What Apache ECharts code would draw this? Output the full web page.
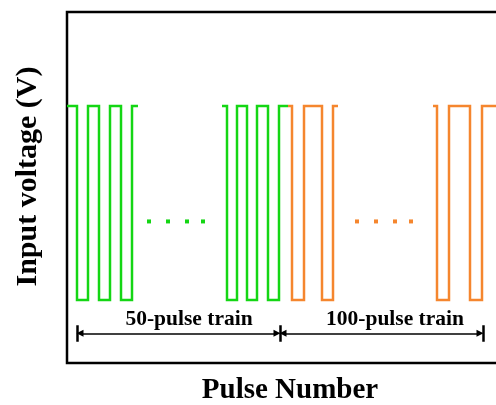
<!DOCTYPE html>
<html>
<head>
<meta charset="utf-8">
<script src="https://cdn.jsdelivr.net/npm/echarts@6/dist/echarts.min.js"></script>
<style>
  html, body { margin: 0; padding: 0; background: #fff; }
  #chart { width: 496px; height: 405px; }
</style>
</head>
<body>
<div id="chart"></div>
<script>
// Pulse waveform levels (V, arbitrary scale)
const HIGH = 1;
const LOW = 0;

// Time axis in arbitrary units; each burst: start, falling edges, rising edges, end
const green1Start = 0;
const green1Falls = [5, 16, 27];
const green1Rises = [10.5, 21.5, 32.5];
const green1End = 35.5;

const green2Start = 77.5;
const green2Falls = [80, 90, 100.5];
const green2Rises = [85, 95, 106];
const green2End = 110.5;

const orange1Start = 110.5;
const orange1Falls = [112.5, 127.5];
const orange1Rises = [118.5, 133];
const orange1End = 135.5;

const orange2Start = 183;
const orange2Falls = [185, 201.5];
const orange2Rises = [191, 207.5];
const orange2End = 225;

// Ellipsis dots between the bursts
const greenDotsX = [41, 50.5, 60, 68];
const orangeDotsX = [145, 154.5, 164, 172];
const dotsLevel = 0.405;

// Train span markers: bar positions and labels
const spanBars = [5, 106.5, 208];
const spanLabels = ['50-pulse train', '100-pulse train'];
const spanLabelX = [61, 164];

const GREEN = '#14d614';
const ORANGE = '#f5862e';
const FONT = 'Liberation Serif';

function burst(start, falls, rises, end) {
  const pts = [[start, HIGH]];
  for (let i = 0; i < falls.length; i++) {
    pts.push([falls[i], HIGH], [falls[i], LOW], [rises[i], LOW], [rises[i], HIGH]);
  }
  pts.push([end, HIGH]);
  return pts;
}

function pulseSeries(data, color) {
  return {
    type: 'line', data: data, showSymbol: false, symbol: 'none',
    lineStyle: { color: color, width: 2.5, join: 'miter' },
    animation: false, silent: true
  };
}

const arrowY = -0.172;
const barTop = -0.13, barBottom = -0.215;
const gap = 1.5;

const arrowData = [];
for (let i = 0; i < spanBars.length - 1; i++) {
  arrowData.push({ coords: [[spanBars[i] + gap, arrowY], [spanBars[i + 1] - gap, arrowY]] });
}
const barData = spanBars.map(x => ({ coords: [[x, barTop], [x, barBottom]] }));

const chart = echarts.init(document.getElementById('chart'), null, { renderer: 'canvas' });
chart.setOption({
  animation: false,
  grid: {
    left: 67, top: 12, bottom: 42, width: 440,
    show: true, borderColor: '#000', borderWidth: 2.5, backgroundColor: 'transparent',
    containLabel: false, outerBoundsMode: 'none'
  },
  xAxis: {
    type: 'value', min: 0, max: 220,
    axisLine: { show: false }, axisTick: { show: false },
    axisLabel: { show: false }, splitLine: { show: false },
    name: 'Pulse Number', nameLocation: 'middle', nameGap: 13,
    nameTextStyle: { fontFamily: FONT, fontWeight: 'bold', fontSize: 29, color: '#000', padding: [0, 0, 0, 6] }
  },
  yAxis: {
    type: 'value', min: -0.325, max: 1.485,
    axisLine: { show: false }, axisTick: { show: false },
    axisLabel: { show: false }, splitLine: { show: false },
    name: 'Input voltage (V)', nameLocation: 'middle', nameGap: 24,
    nameTextStyle: { fontFamily: FONT, fontWeight: 'bold', fontSize: 30, color: '#000', padding: [0, 0, 0, 22] }
  },
  series: [
    pulseSeries(burst(green1Start, green1Falls, green1Rises, green1End), GREEN),
    pulseSeries(burst(green2Start, green2Falls, green2Rises, green2End), GREEN),
    pulseSeries(burst(orange1Start, orange1Falls, orange1Rises, orange1End), ORANGE),
    pulseSeries(burst(orange2Start, orange2Falls, orange2Rises, orange2End), ORANGE),
    {
      type: 'scatter', symbol: 'rect', symbolSize: 4,
      data: greenDotsX.map(x => [x, dotsLevel]),
      itemStyle: { color: GREEN, opacity: 1 }, silent: true
    },
    {
      type: 'scatter', symbol: 'rect', symbolSize: 4,
      data: orangeDotsX.map(x => [x, dotsLevel]),
      itemStyle: { color: ORANGE, opacity: 1 }, silent: true
    },
    {
      type: 'lines', coordinateSystem: 'cartesian2d',
      symbol: ['triangle', 'triangle'], symbolSize: 7,
      lineStyle: { color: '#000', width: 1.5, opacity: 1 },
      itemStyle: { color: '#000' },
      data: arrowData, silent: true
    },
    {
      type: 'lines', coordinateSystem: 'cartesian2d',
      symbol: ['none', 'none'],
      lineStyle: { color: '#000', width: 2.5, opacity: 1 },
      data: barData, silent: true
    },
    {
      type: 'scatter', symbolSize: 0,
      itemStyle: { opacity: 1 },
      data: spanLabels.map((t, i) => ({ value: [spanLabelX[i], -0.103], name: t })),
      label: {
        show: true, position: 'inside', formatter: '{b}',
        fontFamily: FONT, fontWeight: 'bold', fontSize: 21.5, color: '#000', opacity: 1
      },
      silent: true
    }
  ]
});
</script>
</body>
</html>
